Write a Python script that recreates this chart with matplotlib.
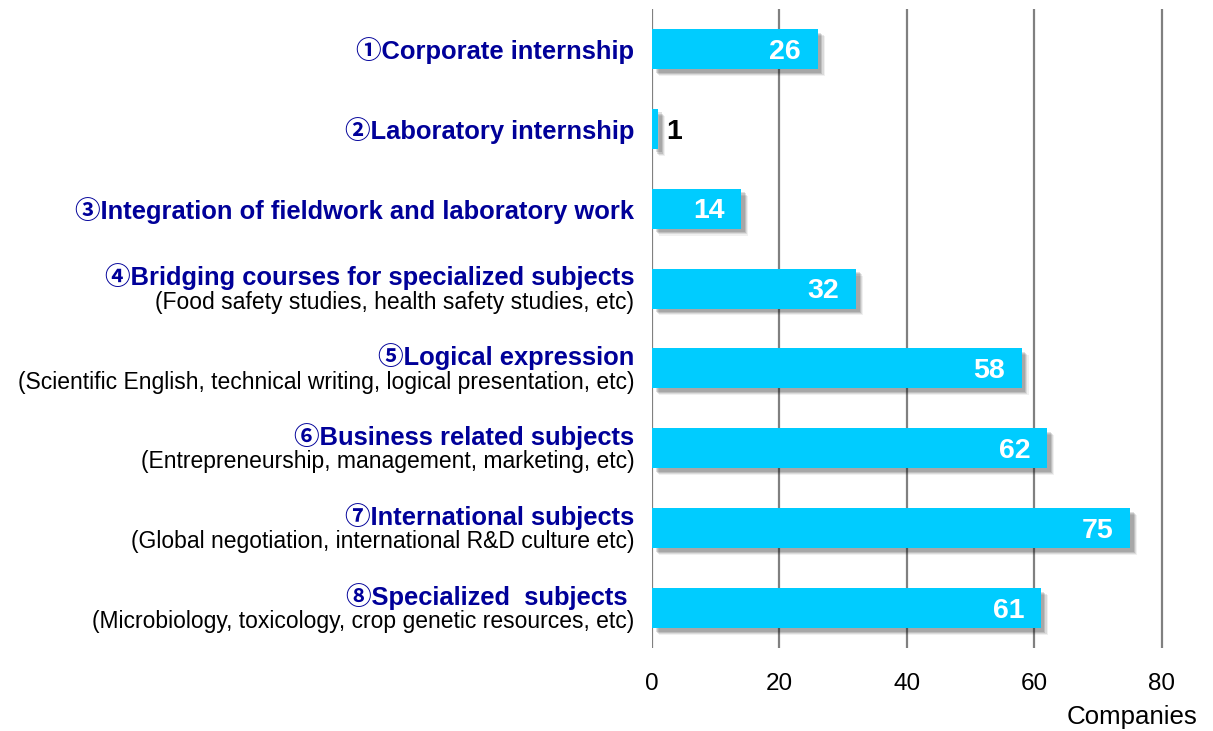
import matplotlib
matplotlib.use("Agg")
import matplotlib.pyplot as plt
import matplotlib.patheffects as pe

titles = ["①Corporate internship", "②Laboratory internship",
          "③Integration of fieldwork and laboratory work",
          "④Bridging courses for specialized subjects",
          "⑤Logical expression", "⑥Business related subjects",
          "⑦International subjects", "⑧Specialized  subjects "]
subtitles = ["", "", "",
             "(Food safety studies, health safety studies, etc)",
             "(Scientific English, technical writing, logical presentation, etc)",
             "(Entrepreneurship, management, marketing, etc)",
             "(Global negotiation, international R&D culture etc)",
             "(Microbiology, toxicology, crop genetic resources, etc)"]
values = [26, 1, 14, 32, 58, 62, 75, 61]
xticks = [0, 20, 40, 60, 80]
xlabel = "Companies"

FAM = ["Liberation Sans", "Noto Sans CJK JP", "DejaVu Sans"]
plt.rcParams["font.family"] = FAM

W, H = 1213, 731
fig = plt.figure(figsize=(W / 100, H / 100), dpi=100)
ax = fig.add_axes([652 / W, (H - 648) / H, 548 / W, 639 / H])

ypos = list(range(len(values)))
shadow = [pe.SimplePatchShadow(offset=(o, -o), shadow_rgbFace="#000000", alpha=a)
          for o, a in [(5.0, 0.06), (4.2, 0.09), (3.4, 0.12), (2.6, 0.12)]]
bars = ax.barh(ypos, values, height=0.5, color="#00CCFF", zorder=3)
for b in bars:
    b.set_path_effects(shadow + [pe.Normal()])

ax.set_ylim(len(values) - 0.5, -0.5)
ax.set_xlim(0, 86)
ax.set_xticks(xticks)
ax.set_xticklabels([str(t) for t in xticks], fontsize=17.5)
ax.tick_params(axis="x", length=0, pad=18)
ax.set_yticks([])
for s in ax.spines.values():
    s.set_visible(False)
for t in xticks:
    ax.axvline(t, color="#808080", lw=1.6, zorder=1)

for y, v in zip(ypos, values):
    if v >= 5:
        ax.text(v - 2.6, y + 0.035, str(v), ha="right", va="center", color="white",
                fontsize=20.5, fontweight="bold", zorder=5)
    else:
        ax.text(v + 1.2, y + 0.045, str(v), ha="left", va="center", color="black",
                fontsize=20.5, fontweight="bold", zorder=5)

xr = -2.8
for y, t, s in zip(ypos, titles, subtitles):
    if s:
        ax.text(xr, y - 0.15, t, ha="right", va="center", color="#000099",
                fontsize=18.4, fontweight="bold", clip_on=False)
        ax.text(xr, y + 0.17, s, ha="right", va="center", color="black",
                fontsize=16.5, clip_on=False)
    else:
        ax.text(xr, y + 0.02, t, ha="right", va="center", color="#000099",
                fontsize=18.4, fontweight="bold", clip_on=False)

fig.text(1197 / W, 1 - 724 / H, xlabel, ha="right", va="baseline", fontsize=18.6)

fig.savefig("out.png", dpi=100)
